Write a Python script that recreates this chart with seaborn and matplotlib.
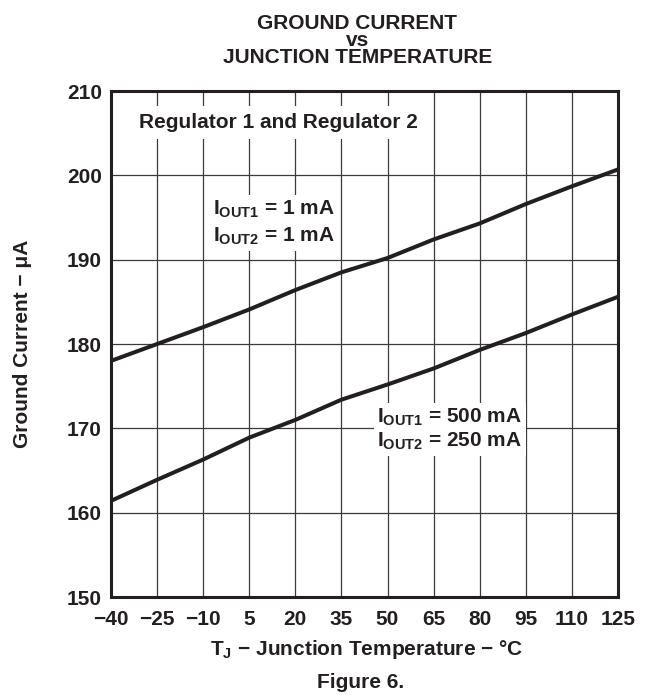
import matplotlib
matplotlib.use("Agg")
import matplotlib.pyplot as plt
import seaborn as sns
import pandas as pd

temps = [-40, -25, -10, 5, 20, 35, 50, 65, 80, 95, 110, 125]
i_low = [178.0, 180.0, 182.0, 184.1, 186.4, 188.5, 190.2, 192.4, 194.3, 196.6, 198.7, 200.7]
i_high = [161.4, 163.9, 166.3, 168.9, 171.0, 173.4, 175.2, 177.1, 179.3, 181.3, 183.5, 185.6]
x_ticks = [-40, -25, -10, 5, 20, 35, 50, 65, 80, 95, 110, 125]
x_ticklabels = ["\u221240", "\u221225", "\u221210", "5", "20", "35", "50", "65", "80", "95", "110", "125"]
y_ticks = [150, 160, 170, 180, 190, 200, 210]

INK = "#231f20"
FS = 15

sns.set_theme(style="white")
plt.rcParams['font.family'] = ['Liberation Sans', 'DejaVu Sans']
plt.rcParams['font.weight'] = 'bold'
plt.rcParams['mathtext.fontset'] = 'custom'
plt.rcParams['mathtext.rm'] = 'Liberation Sans:bold'
plt.rcParams['mathtext.it'] = 'Liberation Sans:bold'
plt.rcParams['mathtext.bf'] = 'Liberation Sans:bold'
plt.rcParams['mathtext.default'] = 'rm'

df = pd.concat([
    pd.DataFrame({"T": temps, "I": i_low, "series": "1mA"}),
    pd.DataFrame({"T": temps, "I": i_high, "series": "500mA"}),
])

fig = plt.figure(figsize=(6.54, 6.95), dpi=100)
ax = fig.add_axes([0.1697, 0.141, 0.7752, 0.728])

sns.lineplot(data=df, x="T", y="I", units="series", estimator=None,
             color=INK, linewidth=2.9, ax=ax, legend=False, zorder=3)

ax.set_xlim(-40, 125)
ax.set_ylim(150, 210)
ax.set_xticks(x_ticks)
ax.set_xticklabels(x_ticklabels)
ax.set_yticks(y_ticks)
ax.grid(True, color="#3a3a3a", linewidth=0.9, zorder=0)
ax.set_axisbelow(True)
for s in ax.spines.values():
    s.set_linewidth(2.2)
    s.set_color(INK)
ax.tick_params(axis='both', length=0, labelsize=FS, colors=INK)
ax.tick_params(axis='x', pad=9)
ax.tick_params(axis='y', pad=6.5)
for lab in ax.get_xticklabels() + ax.get_yticklabels():
    lab.set_fontweight('bold')

ax.set_xlabel("T$_{\\mathregular{J}}$ \u2212 Junction Temperature \u2212 \u00b0C",
              fontsize=FS, fontweight='bold', color=INK, va='baseline')
ax.xaxis.set_label_coords(0.505, -0.1146)
ax.set_ylabel("Ground Current \u2212 \u03bcA", fontsize=FS, fontweight='bold', color=INK, va='center')
ax.yaxis.set_label_coords(-0.1736, 0.5)

fig.text(0.5466, 1 - 63 / 695, "GROUND CURRENT\nvs\nJUNCTION TEMPERATURE", ha='center', va='baseline',
         multialignment='center', linespacing=0.87, fontsize=FS, fontweight='bold', color=INK)
fig.text(0.552, 1 - 688 / 695, "Figure 6.", ha='center', va='baseline', fontsize=FS, fontweight='bold', color=INK)

bbox = dict(facecolor='white', edgecolor='none', pad=2.5)
ax.text(-30.9, 205.6, "Regulator 1 and Regulator 2", ha='left', va='baseline', fontsize=FS,
        fontweight='bold', color=INK, bbox=dict(facecolor='white', edgecolor='none', pad=5), zorder=4)

ax.text(-6.8, 195.3, "I$_{\\mathregular{OUT1}}$ = 1 mA", ha='left', va='baseline',
        fontsize=FS, fontweight='bold', color=INK, bbox=bbox, zorder=6)
ax.text(-6.8, 192.1, "I$_{\\mathregular{OUT2}}$ = 1 mA", ha='left', va='baseline',
        fontsize=FS, fontweight='bold', color=INK, bbox=bbox, zorder=5)
ax.text(46.6, 170.7, "I$_{\\mathregular{OUT1}}$ = 500 mA", ha='left', va='baseline',
        fontsize=FS, fontweight='bold', color=INK, bbox=bbox, zorder=6)
ax.text(46.6, 167.8, "I$_{\\mathregular{OUT2}}$ = 250 mA", ha='left', va='baseline',
        fontsize=FS, fontweight='bold', color=INK, bbox=bbox, zorder=5)

fig.savefig("out.png", dpi=100, facecolor='white')
